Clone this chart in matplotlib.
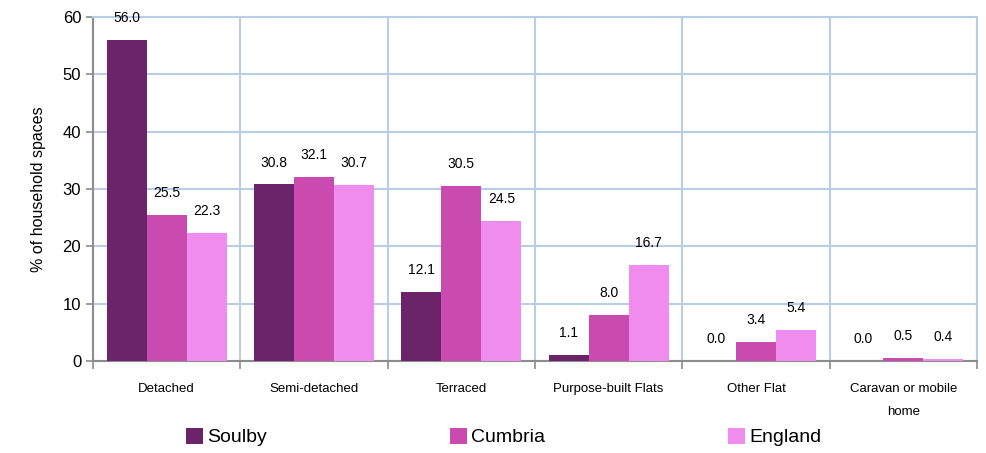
import numpy as np
import matplotlib
matplotlib.use('Agg')
import matplotlib.pyplot as plt
from matplotlib.patches import Patch

plt.rcParams['font.family'] = ['Liberation Sans', 'DejaVu Sans']

categories = ["Detached", "Semi-detached", "Terraced", "Purpose-built Flats",
              "Other Flat", "Caravan or mobile\nhome"]
series = ["Soulby", "Cumbria", "England"]
soulby = [56.0, 30.8, 12.1, 1.1, 0.0, 0.0]
cumbria = [25.5, 32.1, 30.5, 8.0, 3.4, 0.5]
england = [22.3, 30.7, 24.5, 16.7, 5.4, 0.4]

colors = ["#6B2369", "#C94BAF", "#F08CEE"]
grid_c = "#B9CDE5"
spine_c = "#8C8C8C"

fig = plt.figure(figsize=(9.87, 4.53), dpi=100)
ax = fig.add_axes([93 / 987, 1 - 361 / 453, (977 - 93) / 987, (361 - 17) / 453])

x = np.arange(len(categories))
w = 0.272
for i, (vals, c) in enumerate(zip([soulby, cumbria, england], colors)):
    pos = x + (i - 1) * w
    ax.bar(pos, vals, width=w, color=c, zorder=3)
    for p, v in zip(pos, vals):
        ax.text(p, v + 2.6, f"{v:.1f}", ha="center", va="bottom", fontsize=10)

ax.set_xlim(-0.5, len(categories) - 0.5)
ax.set_ylim(0, 60)
ax.set_yticks(range(0, 61, 10))
ax.tick_params(axis='y', labelsize=12, length=5, color=spine_c, width=1.2)

# vertical grid at category boundaries, tick marks there too
bounds = np.arange(-0.5, len(categories), 1.0)
ax.set_xticks(bounds)
ax.set_xticklabels([])
ax.tick_params(axis='x', length=6, color=spine_c, width=1.2)
ax.set_xticks(x, minor=True)
ax.set_xticklabels(categories, minor=True, fontsize=9.5, linespacing=2.2)
ax.tick_params(axis='x', which='minor', length=0, pad=16)

ax.grid(True, which='major', color=grid_c, lw=1.5, zorder=0)
ax.set_axisbelow(True)
for s in ["top", "right"]:
    ax.spines[s].set_color(grid_c)
    ax.spines[s].set_linewidth(1.5)
for s in ["left", "bottom"]:
    ax.spines[s].set_color(spine_c)
    ax.spines[s].set_linewidth(1.5)

ax.set_ylabel("% of household spaces", fontsize=11.5, labelpad=12)

handles = [Patch(facecolor=c, edgecolor='none') for c in colors]
fig.legend(handles, series, loc="center left", bbox_to_anchor=(178 / 987, 1 - 437 / 453),
           ncol=3, frameon=False, fontsize=14, handlelength=0.9, handleheight=0.9,
           handletextpad=0.2, columnspacing=9.4, borderaxespad=0)

fig.savefig("out.png", dpi=100)
